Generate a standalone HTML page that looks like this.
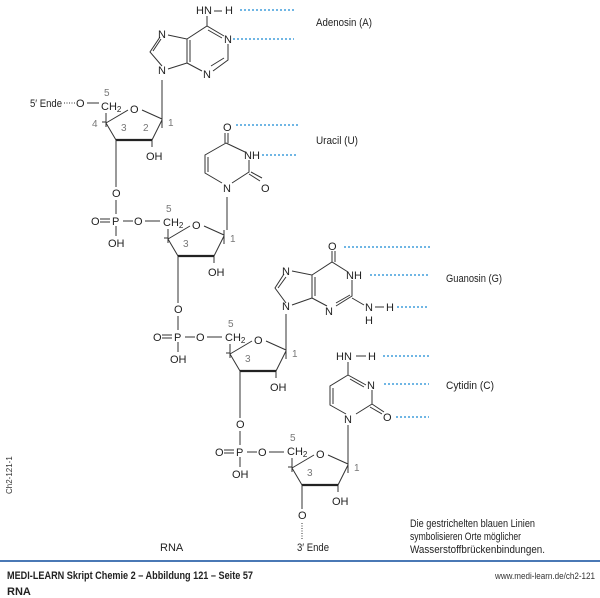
<!DOCTYPE html>
<html><head><meta charset="utf-8"><style>
html,body{margin:0;padding:0;background:#fff;}
svg{display:block;font-family:"Liberation Sans",sans-serif;}
.a{font-size:11px;fill:#222;}
.g{font-size:10px;fill:#777;}
.s{stroke:#333;stroke-width:1;fill:none;}
.b{stroke:#222;stroke-width:2.2;fill:none;}
.d{stroke:#1a8ad4;stroke-width:1.3;stroke-dasharray:2,2;fill:none;}
.k{stroke:#333;stroke-width:1;stroke-dasharray:1,1.5;fill:none;}
</style></head><body>
<svg width="600" height="598" viewBox="0 0 600 598">
<defs>
<g id="sug">
  <text class="a" x="101" y="110">CH<tspan font-size="8" dy="2">2</tspan></text>
  <text class="g" x="104" y="96">5</text>
  <path class="s" d="M106,113 V127 M102,122 H106 M106,123 L128,110 M142,110 L162,119 M162,114 V128 M162,120 L152,140 M106,123 L116,140 M152,140 V147"/>
  <path class="b" d="M116,140 H152"/>
  <text class="a" x="146" y="160">OH</text>
  <text class="g" x="121" y="131">3</text>
  <text class="g" x="168" y="126">1</text>
  <text class="a" x="130" y="113">O</text>
</g>
<g id="pho">
  <path class="s" d="M116,140 V187"/>
  <text class="a" x="112" y="197">O</text>
  <path class="s" d="M116,200 V214 M116,226 V236 M100,219 H110 M100,222 H110 M123,221 H133 M145,221 H160"/>
  <text class="a" x="112" y="225">P</text>
  <text class="a" x="91" y="225">O</text>
  <text class="a" x="134" y="225">O</text>
  <text class="a" x="108" y="247">OH</text>
</g>
</defs>

<use href="#sug"/>
<use href="#pho"/>
<text class="g" x="92" y="127">4</text>
<text class="g" x="143" y="131">2</text>
<text class="a" x="30" y="107" textLength="32" lengthAdjust="spacingAndGlyphs">5′ Ende</text>
<path class="k" d="M64,103 H75"/>
<text class="a" x="76" y="107">O</text>
<path class="s" d="M87,103 H99 M162,114 V80"/>

<g transform="translate(62,116)"><use href="#sug"/><use href="#pho"/></g>
<g transform="translate(124,231)"><use href="#sug"/><use href="#pho"/></g>
<g transform="translate(186,345)"><use href="#sug"/>
  <path class="s" d="M116,140 V164"/>
  <text class="a" x="112" y="174">O</text>
  <path class="k" d="M116,178 V195"/>
</g>
<text class="a" x="297" y="551" textLength="32" lengthAdjust="spacingAndGlyphs">3′ Ende</text>

<!-- Adenine -->
<path class="s" d="M162,66 L150,52 L160,37 M153,51 L161,39 M168,35 L187,39 L187,63 L168,69 M190,40 V62 M187,39 L207,26 L224,36 M208,30 L222,38 M228,44 V60 L213,71 M224,58 L211,66 M202,71 L187,63 M207,26 V16 M214,11 H222"/>
<text class="a" x="158" y="74">N</text>
<text class="a" x="158" y="38">N</text>
<text class="a" x="224" y="43">N</text>
<text class="a" x="203" y="78">N</text>
<text class="a" x="196" y="14">HN</text>
<text class="a" x="225" y="14">H</text>
<path class="d" d="M240,10 H294 M233,39 H294"/>
<text class="a" x="316" y="26" textLength="56" lengthAdjust="spacingAndGlyphs">Adenosin (A)</text>

<!-- Uracil -->
<path class="s" d="M222,183 L205,173 V155 L226,143 M208,172 V157 M226,143 L245,152 M249,160 V172 L232,183 M249,174 L260,181 M251,172 L262,178 M225,143 V133 M228,143 V133"/>
<text class="a" x="223" y="131">O</text>
<text class="a" x="223" y="192">N</text>
<text class="a" x="244" y="159">NH</text>
<text class="a" x="261" y="192">O</text>
<path class="d" d="M236,125 H298 M262,155 H298"/>
<text class="a" x="316" y="144" textLength="42" lengthAdjust="spacingAndGlyphs">Uracil (U)</text>

<!-- Guanine -->
<path class="s" d="M286,303 L275,288 L284,274 M278,288 L286,277 M292,271 L312,275 L312,298 L292,305 M315,277 V296 M312,275 L332,262 L348,272 M332,262 V251 M335,262 V251 M352,280 V296 L336,306 M350,295 L336,303 M327,306 L312,298 M352,298 L364,305"/>
<text class="a" x="282" y="310">N</text>
<text class="a" x="282" y="275">N</text>
<text class="a" x="328" y="250">O</text>
<text class="a" x="346" y="279">NH</text>
<text class="a" x="325" y="315">N</text>
<text class="a" x="365" y="311">N</text>
<text class="a" x="365" y="324">H</text>
<text class="a" x="386" y="311">H</text>
<path class="s" d="M375,307 H384"/>
<path class="d" d="M344,247 H430 M370,275 H430 M397,307 H427"/>
<text class="a" x="446" y="282" textLength="56" lengthAdjust="spacingAndGlyphs">Guanosin (G)</text>
<path class="s" d="M286,314 V347"/>

<!-- Cytosine -->
<path class="s" d="M346,414 L330,405 V386 L348,375 M333,404 V388 M348,375 L366,385 M350,379 L364,387 M372,390 V404 L356,414 M372,404 L384,412 M370,407 L382,414 M348,375 V362 M356,356 H366"/>
<text class="a" x="344" y="423">N</text>
<text class="a" x="367" y="389">N</text>
<text class="a" x="383" y="421">O</text>
<text class="a" x="336" y="360">HN</text>
<text class="a" x="368" y="360">H</text>
<path class="d" d="M383,356 H429 M384,384 H429 M396,417 H429"/>
<text class="a" x="446" y="389" textLength="48" lengthAdjust="spacingAndGlyphs">Cytidin (C)</text>
<path class="s" d="M348,425 V459"/>
<path class="s" d="M227,197 V230"/>

<text class="a" x="160" y="551">RNA</text>
<text class="a" x="410" y="527" textLength="125" lengthAdjust="spacingAndGlyphs">Die gestrichelten blauen Linien</text>
<text class="a" x="410" y="540" textLength="111" lengthAdjust="spacingAndGlyphs">symbolisieren Orte möglicher</text>
<text class="a" x="410" y="553" textLength="135" lengthAdjust="spacingAndGlyphs">Wasserstoffbrückenbindungen.</text>
<text font-size="8" fill="#333" transform="translate(12,494) rotate(-90)">Ch2-121-1</text>
<rect x="0" y="560" width="600" height="2" fill="#4a78b5"/>
<text x="7" y="579" font-size="11" font-weight="bold" fill="#222" textLength="246" lengthAdjust="spacingAndGlyphs">MEDI-LEARN Skript Chemie 2 – Abbildung 121 – Seite 57</text>
<text x="595" y="579" font-size="9" fill="#333" text-anchor="end" textLength="100" lengthAdjust="spacingAndGlyphs">www.medi-learn.de/ch2-121</text>
<text x="7" y="595" font-size="11" font-weight="bold" fill="#222">RNA</text>
</svg>
</body></html>
